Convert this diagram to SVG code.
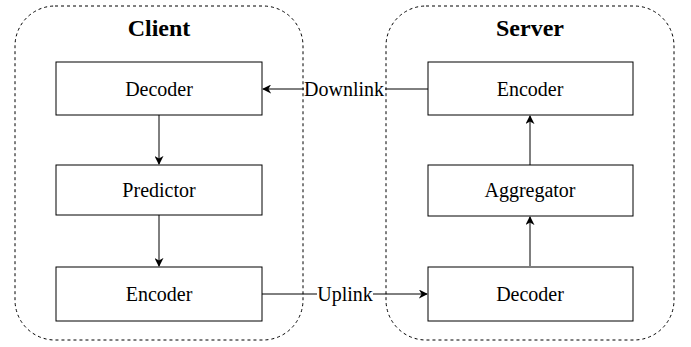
<svg xmlns="http://www.w3.org/2000/svg" width="691" height="347" viewBox="0 0 691 347">
  <style>
    .group { fill: none; stroke: #000; stroke-width: 1; stroke-dasharray: 3 3; }
    .box { fill: #fff; stroke: #000; stroke-width: 1; }
    text { font-family: 'Liberation Serif', Tinos, 'Times New Roman', Times, 'Nimbus Roman', 'DejaVu Serif', 'Noto Serif', FreeSerif, serif; fill: #000; text-anchor: middle; }
    .label { font-size: 20px; }
    .title { font-size: 24px; font-weight: bold; }
    .edge { fill: none; stroke: #000; stroke-width: 1; }
    .edge-label { font-size: 20px; }
  </style>
  <defs>
    <marker id="arrow" viewBox="0 0 10 10" refX="9" refY="5" markerWidth="9" markerHeight="9" markerUnits="userSpaceOnUse" orient="auto">
      <path d="M0,0 L10,5 L0,10 L3,5 Z" fill="#000"/>
    </marker>
  </defs>
  <rect width="691" height="347" fill="#fff"/>

  <g id="client">
    <rect class="group" x="15" y="6" width="288" height="334" rx="40" ry="40"/>
    <text class="title" x="159" y="36">Client</text>
  </g>
  <g id="server">
    <rect class="group" x="386" y="6" width="288" height="334" rx="40" ry="40"/>
    <text class="title" x="530" y="36">Server</text>
  </g>

  <g id="connectors">
    <line class="edge" x1="159" y1="115" x2="159" y2="164" marker-end="url(#arrow)"/>
    <line class="edge" x1="159" y1="215" x2="159" y2="266" marker-end="url(#arrow)"/>
    <line class="edge" x1="530" y1="266" x2="530" y2="217" marker-end="url(#arrow)"/>
    <line class="edge" x1="530" y1="165" x2="530" y2="116" marker-end="url(#arrow)"/>
    <line class="edge" x1="428" y1="89" x2="263" y2="89" marker-end="url(#arrow)"/>
    <line class="edge" x1="262" y1="294" x2="427" y2="294" marker-end="url(#arrow)"/>
    <rect x="304" y="80" width="81" height="18" fill="#fff"/>
    <text class="edge-label" x="344" y="96">Downlink</text>
    <rect x="317" y="285" width="56" height="18" fill="#fff"/>
    <text class="edge-label" x="345" y="301">Uplink</text>
  </g>

  <g id="client-decoder">
    <rect class="box" x="56" y="62" width="206" height="53"/>
    <text class="label" x="159" y="96">Decoder</text>
  </g>
  <g id="client-predictor">
    <rect class="box" x="56" y="165" width="206" height="50"/>
    <text class="label" x="159" y="197">Predictor</text>
  </g>
  <g id="client-encoder">
    <rect class="box" x="56" y="267" width="206" height="54"/>
    <text class="label" x="159" y="301">Encoder</text>
  </g>
  <g id="server-encoder">
    <rect class="box" x="428" y="62" width="205" height="53"/>
    <text class="label" x="530" y="96">Encoder</text>
  </g>
  <g id="server-aggregator">
    <rect class="box" x="428" y="165" width="205" height="51"/>
    <text class="label" x="530" y="197">Aggregator</text>
  </g>
  <g id="server-decoder">
    <rect class="box" x="428" y="267" width="205" height="54"/>
    <text class="label" x="530" y="301">Decoder</text>
  </g>
</svg>
